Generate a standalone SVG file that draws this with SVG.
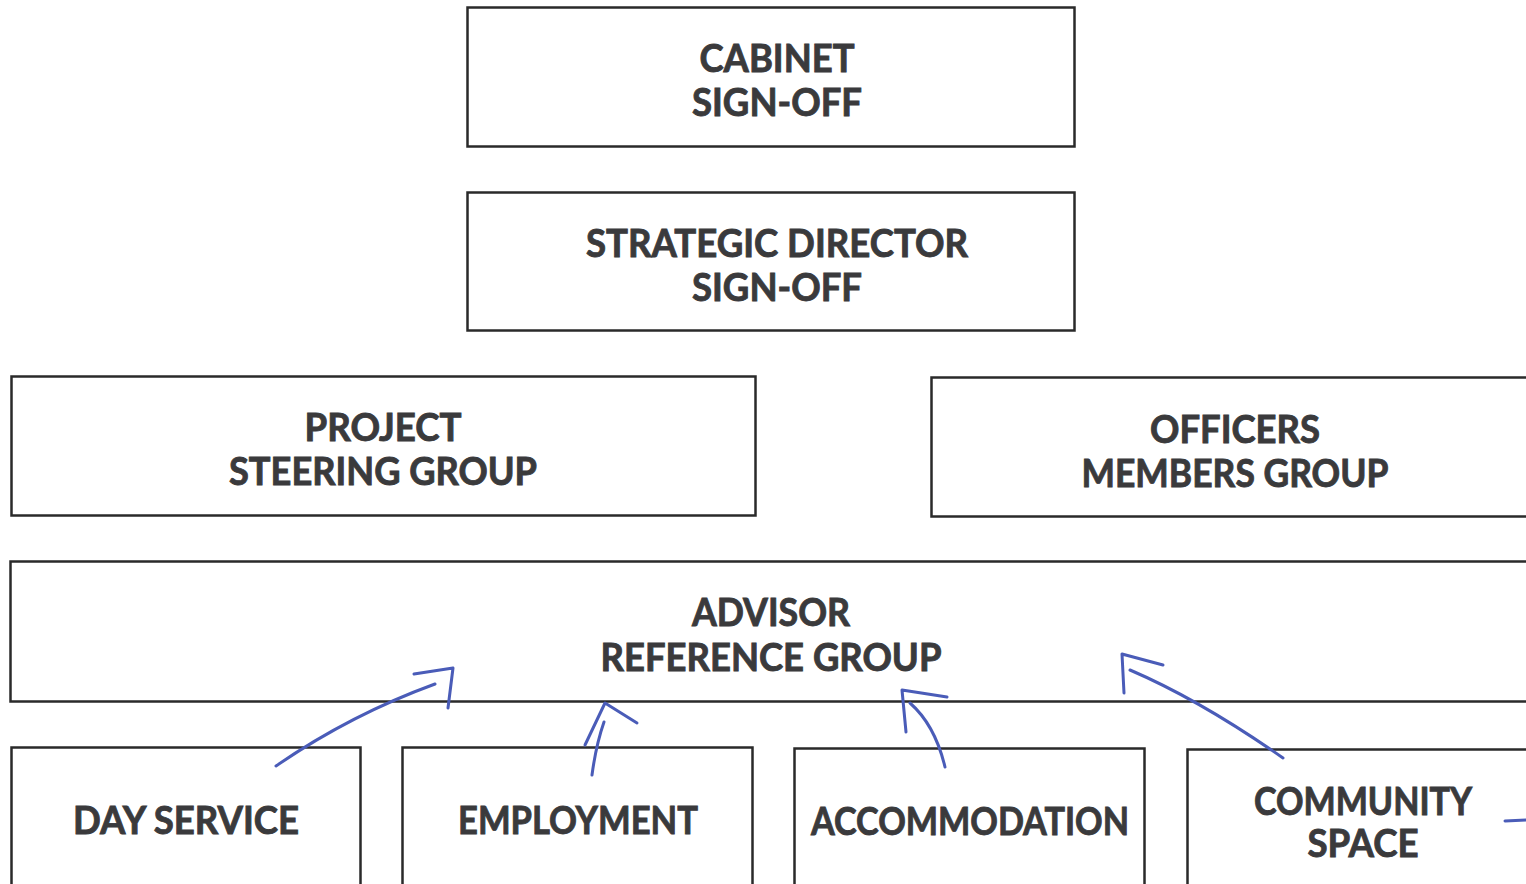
<svg xmlns="http://www.w3.org/2000/svg" width="1526" height="884" viewBox="0 0 1526 884">
<style>
.box{fill:#fff;stroke:#2a2a2a;stroke-width:2.5}
.t{font-family:Lato,"Open Sans","DejaVu Sans",sans-serif;font-weight:bold;font-size:38px;fill:#3a3a3c;stroke:#3a3a3c;stroke-width:0.9;text-anchor:middle}
.pen{fill:none;stroke:#4a5cb8;stroke-width:3;stroke-linecap:round;stroke-linejoin:round}
</style>
<rect width="1526" height="884" fill="#fff"/>
<g id="cabinet">
<rect class="box" x="467.5" y="7.5" width="607" height="139"/>
<text class="t" x="777" y="72" textLength="155" lengthAdjust="spacingAndGlyphs">CABINET</text>
<text class="t" x="777" y="116" textLength="170" lengthAdjust="spacingAndGlyphs">SIGN-OFF</text>
</g>
<g id="strategic">
<rect class="box" x="467.5" y="192.5" width="607" height="138"/>
<text class="t" x="777" y="257" textLength="382" lengthAdjust="spacingAndGlyphs">STRATEGIC DIRECTOR</text>
<text class="t" x="777" y="301" textLength="170" lengthAdjust="spacingAndGlyphs">SIGN-OFF</text>
</g>
<g id="project">
<rect class="box" x="11.5" y="376.5" width="744" height="139"/>
<text class="t" x="383" y="441" textLength="157" lengthAdjust="spacingAndGlyphs">PROJECT</text>
<text class="t" x="383" y="485" textLength="308" lengthAdjust="spacingAndGlyphs">STEERING GROUP</text>
</g>
<g id="officers">
<rect class="box" x="931.5" y="377.5" width="620" height="139"/>
<text class="t" x="1235" y="443" textLength="170" lengthAdjust="spacingAndGlyphs">OFFICERS</text>
<text class="t" x="1235" y="487" textLength="307" lengthAdjust="spacingAndGlyphs">MEMBERS GROUP</text>
</g>
<g id="advisor">
<rect class="box" x="10.5" y="561.5" width="1540" height="140"/>
<text class="t" x="771" y="626" textLength="158" lengthAdjust="spacingAndGlyphs">ADVISOR</text>
<text class="t" x="771" y="671" textLength="341" lengthAdjust="spacingAndGlyphs">REFERENCE GROUP</text>
</g>
<g id="day-service">
<rect class="box" x="11.5" y="747.5" width="349" height="150"/>
<text class="t" x="186" y="834" textLength="226" lengthAdjust="spacingAndGlyphs">DAY SERVICE</text>
</g>
<g id="employment">
<rect class="box" x="402.5" y="747.5" width="350" height="150"/>
<text class="t" x="578" y="834" textLength="240" lengthAdjust="spacingAndGlyphs">EMPLOYMENT</text>
</g>
<g id="accommodation">
<rect class="box" x="794.5" y="748.5" width="350" height="150"/>
<text class="t" x="970" y="835" textLength="318" lengthAdjust="spacingAndGlyphs">ACCOMMODATION</text>
</g>
<g id="community-space">
<rect class="box" x="1187.5" y="749.5" width="360" height="150"/>
<text class="t" x="1363" y="815" textLength="218" lengthAdjust="spacingAndGlyphs">COMMUNITY</text>
<text class="t" x="1363" y="857" textLength="111" lengthAdjust="spacingAndGlyphs">SPACE</text>
</g>
<g id="connectors">
<path class="pen" d="M276 766 Q350 715 435 684"/>
<path class="pen" d="M414 674 L453 668 L448 708"/>
<path class="pen" d="M592 775 Q596 745 604 722"/>
<path class="pen" d="M585 745 L605 703 L637 723"/>
<path class="pen" d="M945 767 Q935 725 910 703"/>
<path class="pen" d="M906 732 L902 690 L947 697"/>
<path class="pen" d="M1283 758 Q1200 700 1130 670"/>
<path class="pen" d="M1124 693 L1122 654 L1163 665"/>
<path class="pen" d="M1505 821 L1526 820" stroke-width="2"/>
</g>
</svg>
